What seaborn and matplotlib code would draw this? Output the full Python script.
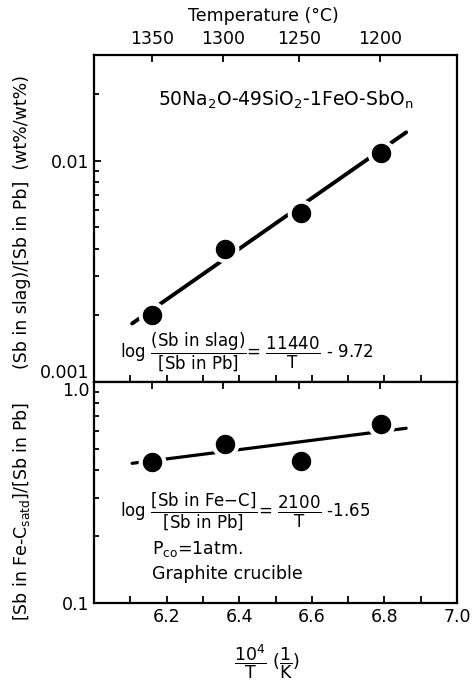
import numpy as np
import pandas as pd
import matplotlib
matplotlib.use("Agg")
import matplotlib.pyplot as plt
import seaborn as sns
from matplotlib.ticker import FixedLocator, NullFormatter

# ---- data ----
inv_T = [6.16, 6.36, 6.57, 6.79]            # 10^4/T (1/K)
slag_ratio = [0.0020, 0.0040, 0.0058, 0.0108]
fec_ratio = [0.435, 0.524, 0.439, 0.645]
temps_C = [1350, 1300, 1250, 1200]
slag_coef = [11440, -9.72]                   # log ratio = a/T + b
fec_coef = [2100, -1.65]
fit_range = [6.105, 6.86]
x_labels = [6.2, 6.4, 6.6, 6.8, 7.0]

sns.set_style("ticks")
plt.rcParams['font.family'] = ['DejaVu Sans']
plt.rcParams['mathtext.default'] = 'regular'
plt.rcParams['axes.linewidth'] = 1.6
for k in ['text.color', 'axes.edgecolor', 'axes.labelcolor', 'xtick.color', 'ytick.color']:
    plt.rcParams[k] = 'black'

W, H = 477, 691
fx = lambda px: px / W
fy = lambda py: 1 - py / H

fig = plt.figure(figsize=(W / 100, H / 100), dpi=100)
L, R = fx(94), fx(457)
y_top, y_mid, y_bot = fy(55), fy(382), fy(603)
ax1 = fig.add_axes([L, y_mid, R - L, y_top - y_mid])
ax2 = fig.add_axes([L, y_bot, R - L, y_mid - y_bot])

xf = np.linspace(fit_range[0], fit_range[1], 60)
fit1 = pd.DataFrame({'x': xf, 'y': 10 ** (slag_coef[0] / 1e4 * xf + slag_coef[1])})
fit2 = pd.DataFrame({'x': xf, 'y': 10 ** (fec_coef[0] / 1e4 * xf + fec_coef[1])})
pts1 = pd.DataFrame({'x': inv_T, 'y': slag_ratio})
pts2 = pd.DataFrame({'x': inv_T, 'y': fec_ratio})

ms = 17
for ax, fit, pts, lw in [(ax1, fit1, pts1, 2.8), (ax2, fit2, pts2, 2.3)]:
    sns.lineplot(data=fit, x='x', y='y', ax=ax, color='black', lw=lw, zorder=2)
    sns.scatterplot(data=pts, x='x', y='y', ax=ax, color='black', s=ms ** 2,
                    edgecolor='white', linewidth=3.0, zorder=3)
    ax.set_yscale('log')
    ax.set_xlim(6.0, 7.0)
    ax.set_xlabel('')
    ax.set_ylabel('')
    ax.xaxis.set_major_locator(FixedLocator(np.round(np.arange(6.0, 7.01, 0.1), 2)))
    ax.tick_params(axis='both', which='both', direction='in', top=False, right=False,
                   labelsize=12.5, width=1.3)
    ax.tick_params(axis='both', which='major', length=5)
    ax.tick_params(axis='both', which='minor', length=3.5)
    # temperature ticks on top
    tw = ax.twiny()
    tw.set_xlim(6.0, 7.0)
    tpos = [1e4 / (t + 273.15) for t in temps_C]
    tw.set_xticks(tpos)
    tw.tick_params(axis='x', direction='in', length=5, width=1.3, labelsize=12.5, pad=5)
    if ax is ax1:
        tw.set_xticklabels([str(t) for t in temps_C])
    else:
        tw.set_xticklabels([])
    for s in tw.spines.values():
        s.set_visible(False)

ax1.set_ylim(0.001, 0.03)
ax1.set_yticks([0.001, 0.01])
ax1.set_yticklabels(['0.001', '0.01'])
ax1.yaxis.set_minor_formatter(NullFormatter())
ax1.xaxis.set_major_formatter(NullFormatter())
ax1.yaxis.get_major_ticks()[0].label1.set_va('bottom')

ax2.set_ylim(0.1, 1.0)
ax2.set_yticks([0.1, 1.0])
ax2.set_yticklabels(['0.1', '1.0'])
ax2.yaxis.set_minor_formatter(NullFormatter())
ax2.yaxis.get_major_ticks()[1].label1.set_va('top')
ax2.set_xticks(np.round(np.arange(6.0, 7.01, 0.1), 2))
ax2.set_xticklabels(['' if round(v, 1) not in x_labels else f'{v:.1f}'
                     for v in np.arange(6.0, 7.01, 0.1)])

# texts
fig.text(fx(263), fy(16), 'Temperature (°C)', ha='center', va='center', fontsize=12.5)
fig.text(fx(267), fy(662), r'$\dfrac{10^4}{T}\ (\dfrac{1}{K})$', ha='center', va='center', fontsize=12.5)
fig.text(fx(22), fy(222), '(Sb in slag)/[Sb in Pb]  (wt%/wt%)', rotation=90,
         ha='center', va='center', fontsize=12.5)
fig.text(fx(22), fy(512), r'[Sb in Fe-C$_{satd}$]/[Sb in Pb]', rotation=90,
         ha='center', va='center', fontsize=12.5)
fig.text(fx(286), fy(100), r'50Na$_2$O-49SiO$_2$-1FeO-SbO$_n$', ha='center', va='center', fontsize=13.5)
fig.text(fx(120), fy(352), r'log $\dfrac{(Sb\ in\ slag)}{[Sb\ in\ Pb]}$= $\dfrac{11440}{T}$ - 9.72',
         ha='left', va='center', fontsize=12)
fig.text(fx(120), fy(511), r'log $\dfrac{[Sb\ in\ Fe{-}C]}{[Sb\ in\ Pb]}$= $\dfrac{2100}{T}$ -1.65',
         ha='left', va='center', fontsize=12)
fig.text(fx(152), fy(549), r'P$_{co}$=1atm.', ha='left', va='center', fontsize=12.5)
fig.text(fx(152), fy(574), 'Graphite crucible', ha='left', va='center', fontsize=12.5)

fig.savefig('out.png', dpi=100)
